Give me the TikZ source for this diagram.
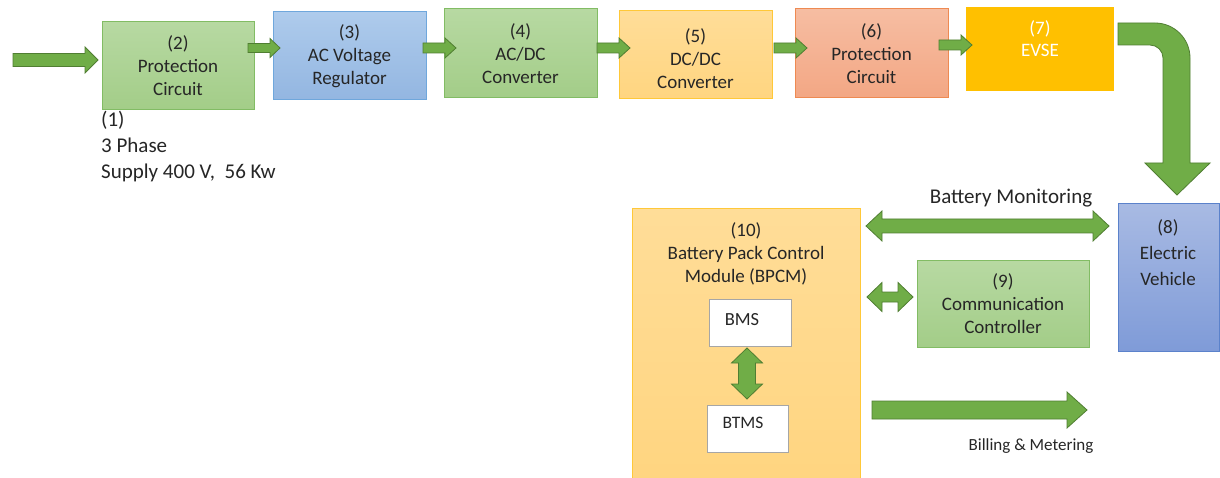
\documentclass[tikz,border=0pt]{standalone}
\usepackage{fontspec}
\setmainfont{Carlito}
\definecolor{arrgreen}{HTML}{70AD47}
\definecolor{arrdark}{HTML}{507E32}
\definecolor{gtop}{HTML}{B7D9A2}
\definecolor{gbot}{HTML}{A3CD88}
\definecolor{gline}{HTML}{82BC64}
\definecolor{btop}{HTML}{AECBEC}
\definecolor{bbot}{HTML}{93B6E1}
\definecolor{bline}{HTML}{6FA7DC}
\definecolor{otop}{HTML}{FFDD98}
\definecolor{obot}{HTML}{FFD580}
\definecolor{oline}{HTML}{FFC838}
\definecolor{stop}{HTML}{F6BDA2}
\definecolor{sbot}{HTML}{F3A784}
\definecolor{sline}{HTML}{EE8A52}
\definecolor{evse}{HTML}{FFC000}
\definecolor{vtop}{HTML}{A8BAE3}
\definecolor{vbot}{HTML}{7F9BD8}
\definecolor{vline}{HTML}{5B82CB}
\definecolor{txt}{HTML}{262626}
\tikzset{
  box/.style={draw, line width=1pt, align=center, inner sep=0pt, text=txt,
    font=\fontsize{19}{23}\selectfont},
  greenbox/.style={box, draw=gline, top color=gtop, bottom color=gbot},
  bluebox/.style={box, draw=bline, top color=btop, bottom color=bbot},
  orangebox/.style={box, draw=oline, top color=otop, bottom color=obot},
  salmonbox/.style={box, draw=sline, top color=stop, bottom color=sbot},
  evsebox/.style={box, draw=none, fill=evse},
  evbox/.style={box, draw=vline, top color=vtop, bottom color=vbot},
  whitebox/.style={box, draw=black!35, fill=white},
  lbl/.style={align=center, inner sep=0pt, text=txt, font=\fontsize{19}{23}\selectfont},
  blk/.style={fill=arrgreen, draw=arrdark, line width=0.8pt, line join=miter},
}
% x1,x2,y,shaft half,head half,head length
\newcommand\blkR[6]{%
 \draw[blk] (#1,{#3-#4}) -- ({#2-#6},{#3-#4}) -- ({#2-#6},{#3-#5}) -- (#2,#3) -- ({#2-#6},{#3+#5}) -- ({#2-#6},{#3+#4}) -- (#1,{#3+#4}) -- cycle;}
\newcommand\blkH[6]{%
 \draw[blk] (#1,#3) -- ({#1+#6},{#3-#5}) -- ({#1+#6},{#3-#4}) -- ({#2-#6},{#3-#4}) -- ({#2-#6},{#3-#5}) -- (#2,#3) -- ({#2-#6},{#3+#5}) -- ({#2-#6},{#3+#4}) -- ({#1+#6},{#3+#4}) -- ({#1+#6},{#3+#5}) -- cycle;}
% y1,y2,x,shaft half,head half,head length
\newcommand\blkV[6]{%
 \draw[blk] (#3,#1) -- ({#3+#5},{#1+#6}) -- ({#3+#4},{#1+#6}) -- ({#3+#4},{#2-#6}) -- ({#3+#5},{#2-#6}) -- (#3,#2) -- ({#3-#5},{#2-#6}) -- ({#3-#4},{#2-#6}) -- ({#3-#4},{#1+#6}) -- ({#3-#5},{#1+#6}) -- cycle;}
\begin{document}
\begin{tikzpicture}[x=1pt,y=-1pt]
\useasboundingbox[fill=white] (0,0) rectangle (1220,478);

% top row boxes
\node[greenbox, minimum width=152, minimum height=88] (b2) at (178,66) {(2)\\Protection\\Circuit};
\node[bluebox, minimum width=153, minimum height=88] (b3) at (349.5,56) {(3)\\AC Voltage\\Regulator};
\node[greenbox, minimum width=153, minimum height=89] (b4) at (520.5,53.5) {(4)\\AC/DC\\Converter};
\node[orangebox, minimum width=153, minimum height=88] (b5) at (695.5,55) {};
\node[lbl] (t5) at (695.5,58.5) {(5)\\DC/DC\\Converter};
\node[salmonbox, minimum width=153, minimum height=89] (b6) at (871.5,53.5) {(6)\\Protection\\Circuit};
\node[evsebox, minimum width=148, minimum height=84] (b7) at (1040,49) {};
\node[lbl, text=white, font=\fontsize{19}{21.5}\selectfont] (t7) at (1040,38.5) {(7)\\EVSE};

% supply label
\node[anchor=west, align=left, inner sep=0pt, text=txt, font=\fontsize{21}{26}\selectfont] (t1) at (101,147) {(1)\\3 Phase\\Supply 400 V,\ \ 56 Kw};

% lower boxes
\node[evbox, minimum width=101, minimum height=147] (b8) at (1168.5,277.5) {};
\node[lbl, font=\fontsize{19}{26}\selectfont] (t8) at (1168,253) {(8)\\Electric\\Vehicle};
\node[greenbox, minimum width=172, minimum height=86] (b9) at (1003,304) {(9)\\Communication\\Controller};
\node[orangebox, minimum width=228, minimum height=272] (b10) at (746,345) {};
\node[lbl] (t10) at (746,253.5) {(10)\\Battery Pack Control\\Module (BPCM)};
\node[whitebox, minimum width=82, minimum height=47] (bms) at (750,322.5) {};
\node[lbl, font=\fontsize{18.5}{20}\selectfont] (tbms) at (742,320) {BMS};
\node[whitebox, minimum width=81, minimum height=47] (btms) at (747.5,428.5) {};
\node[lbl, font=\fontsize{17.5}{20}\selectfont] (tbtms) at (743,423) {BTMS};

% labels
\node[lbl, font=\fontsize{21}{24}\selectfont] (tbm) at (1011,198) {Battery Monitoring};
\node[lbl, font=\fontsize{17}{20}\selectfont] (tbill) at (1031,446) {Billing \& Metering};

% top-row arrows
\blkR{13}{98}{60}{6.5}{13}{13}
\blkR{248}{280}{48}{4.5}{9.5}{10}
\blkR{423}{456}{48}{5}{10}{11}
\blkR{597}{630}{48}{5}{10}{11}
\blkR{774}{807}{48}{5}{10}{11}
\blkR{939}{972}{45}{5}{10}{11}

% bent arrow EVSE -> EV
\draw[blk] (1118,23) -- (1155,23) .. controls (1174.3,23) and (1190,38.7) .. (1190,58)
  -- (1190,163) -- (1210,163) -- (1177,195) -- (1145,163) -- (1163,163) -- (1163,58)
  .. controls (1163,50.8) and (1157.2,45) .. (1150,45) -- (1118,45) -- cycle;

% lower arrows
\blkH{866}{1109}{226}{7}{15}{16}
\blkH{867}{913}{297}{5}{14.5}{15}
\blkV{348}{399}{747}{8.5}{15.5}{15}
\blkR{872}{1087}{410}{9}{18}{20}
\end{tikzpicture}
\end{document}
